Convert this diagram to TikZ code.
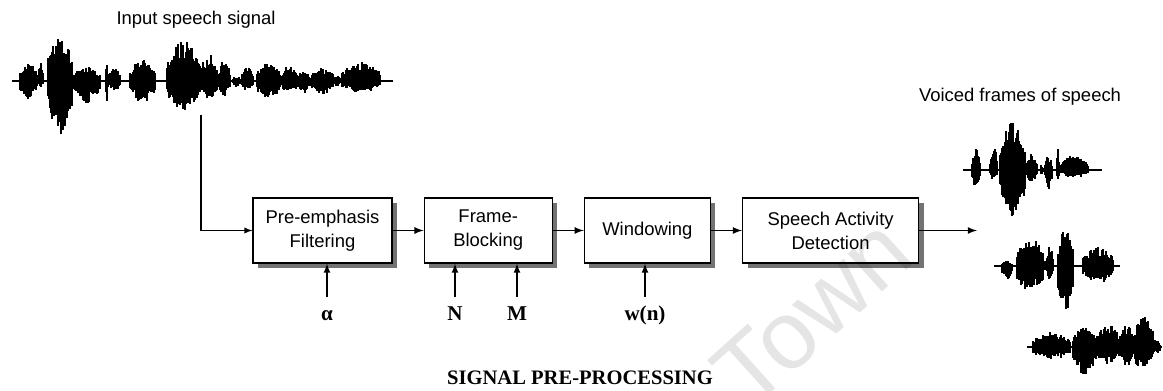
\documentclass[tikz,border=0pt]{standalone}
\usepackage{fontspec}
\setmainfont{Liberation Serif}
\setsansfont{Liberation Sans}
\usetikzlibrary{positioning,shadows}

% waveform: #1 left end, #2 right end, #3 baseline, #4 blobs from/to/up/down
\newcommand{\speechwave}[4]{%
  \draw[line width=0.9pt] (#1,#3) -- (#2,#3);
  \foreach \ta/\tb/\hup/\hdn in {#4}{
    \foreach \x in {\ta,...,\tb}{
      \pgfmathsetmacro{\env}{0.5+0.5*sin(180*(\x-\ta)/(\tb-\ta))}
      \pgfmathsetmacro{\hu}{\hup*\env*(0.5+0.5*rnd)}
      \pgfmathsetmacro{\hd}{\hdn*\env*(0.5+0.5*rnd)}
      \fill (\x-0.9,#3-\hu) rectangle (\x+0.9,#3+\hd);
    }
  }
}

\begin{document}
\begin{tikzpicture}[x=0.02cm, y=-0.02cm, node distance=0.62cm,
    block/.style={draw, line width=0.7pt, fill=white, minimum height=1.3cm, align=center,
      font=\sffamily\fontsize{10.5}{13.6}\selectfont,
      drop shadow={shadow xshift=0.1cm, shadow yshift=-0.1cm, fill=black!55, opacity=1}},
    param/.style={font=\bfseries\fontsize{12}{14}\selectfont, inner sep=0pt, text height=1.4ex, text depth=0.3ex},
    caption/.style={font=\sffamily\fontsize{10.5}{13}\selectfont},
    flow/.style={-latex, line width=0.8pt}]
  \useasboundingbox (0,0) rectangle (1163,391);
  \pgfmathsetseed{11}

  % input signal
  \node (inlabel) [caption] at (196,20) {Input speech signal};
  \speechwave{12}{393}{81}{20/37/19/19, 38/43/23/8, 48/72/48/56, 73/100/14/22,
    106/108/26/24, 109/120/14/10, 130/155/21/22, 167/200/41/31, 201/217/28/20,
    218/230/21/15, 233/240/6/6, 242/253/14/10, 257/280/19/19, 282/297/16/14,
    298/310/12/12, 312/333/14/14, 334/340/6/6, 342/380/19/12}
  \coordinate (tap) at (201,115);

  % processing chain
  \node (pre) [block, minimum width=2.78cm] at (322.5,230.5) {Pre-emphasis\\Filtering};
  \node (frame) [block, minimum width=2.56cm, right=of pre] {Frame-\\Blocking};
  \node (window) [block, minimum width=2.52cm, right=of frame] {Windowing};
  \node (sad) [block, minimum width=3.52cm, right=of window] {Speech Activity\\Detection};

  \draw [flow, line width=0.6pt] (tap) |- (pre);
  \draw [flow] (pre) -- (frame);
  \draw [flow] (frame) -- (window);
  \draw [flow] (window) -- (sad);
  \coordinate (voiced) at (977,230.5);
  \draw [flow] (sad) -- (voiced);

  % parameters
  \node (alpha) [param] at (327,316) {α};
  \node (N) [param] at (455,316) {N};
  \node (M) [param] at (517,316) {M};
  \node (wn) [param] at (645,316) {w(n)};
  \draw [flow, shorten <=0.24cm] (alpha) -- (alpha |- pre.south);
  \draw [flow, shorten <=0.24cm] (N) -- (N |- frame.south);
  \draw [flow, shorten <=0.24cm] (M) -- (M |- frame.south);
  \draw [flow, shorten <=0.24cm] (wn) -- (wn |- window.south);

  \node (title) [font=\bfseries\fontsize{11.7}{14}\selectfont] at (580,378) {SIGNAL PRE-PROCESSING};

  % voiced frames
  \node (outlabel) [caption] at (1020,97) {Voiced frames of speech};
  \speechwave{963}{1102}{170}{972/980/22/18, 990/997/25/10, 1000/1025/48/47,
    1026/1037/18/12, 1040/1043/5/5, 1045/1052/15/20, 1057/1059/25/13, 1060/1088/15/8}
  \speechwave{994}{1120}{266}{1002/1012/6/16, 1017/1043/29/28, 1044/1046/6/6,
    1047/1053/26/15, 1058/1073/37/46, 1083/1113/19/18}
  \speechwave{1027}{1162}{347}{1033/1070/15/13, 1073/1097/20/28, 1097/1120/23/17,
    1120/1133/23/20, 1133/1153/32/23, 1153/1160/8/8}

  % watermark
  \node (mark) [rotate=42, text=black, opacity=0.1, font=\sffamily\fontsize{55}{55}\selectfont] at (812,312) {Town};
\end{tikzpicture}
\end{document}
